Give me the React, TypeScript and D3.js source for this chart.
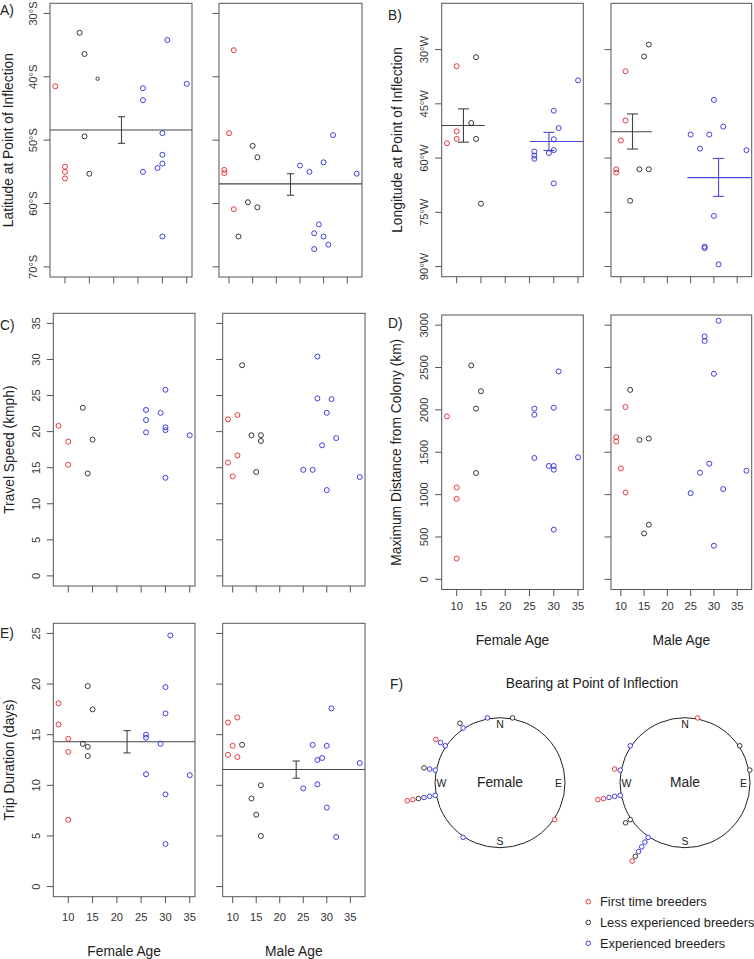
import React from "react";
import * as d3 from "d3";

// groups: 0 first time breeders, 1 less experienced, 2 experienced
const COLORS = ["#e3262b", "#222222", "#2b2be0"];
const LEGEND = ["First time breeders", "Less experienced breeders", "Experienced breeders"];
const FONT = "Liberation Sans, Arial, Helvetica, sans-serif";

// [age, value, group]
const latFemale = [
	[8, 41.5, 0], [10, 54.2, 0], [10, 55.0, 0], [10, 56.05, 0],
	[13, 33.05, 1], [14, 36.4, 1], [16.7, 40.3, 1], [14, 49.4, 1], [15, 55.3, 1],
	[26, 41.8, 2], [26, 43.7, 2], [31, 34.2, 2], [35, 41.1, 2], [30, 48.9, 2],
	[30, 52.3, 2], [30, 53.7, 2], [29, 54.4, 2], [26, 55.0, 2], [30, 65.2, 2],
];
const latMale = [
	[11, 35.8, 0], [10, 48.9, 0], [9, 54.7, 0], [9, 55.2, 0], [11, 60.9, 0],
	[15, 50.9, 1], [16, 52.7, 1], [14, 59.8, 1], [16, 60.6, 1], [12, 65.2, 1],
	[25, 54.0, 2], [27, 55.0, 2], [30, 53.5, 2], [32, 49.2, 2], [37, 55.3, 2],
	[29, 63.3, 2], [28, 64.7, 2], [30, 65.2, 2], [31, 66.5, 2], [28, 67.2, 2],
];
const lonFemale = [
	[10, 34.6, 0], [10, 52.6, 0], [10, 54.7, 0], [8, 55.9, 0],
	[14, 32.1, 1], [13, 50.3, 1], [14, 54.7, 1], [15, 72.6, 1],
	[35, 38.5, 2], [30, 46.9, 2], [31, 51.7, 2], [30, 54.8, 2], [30, 57.8, 2],
	[26, 58.2, 2], [26, 59.3, 2], [26, 60.2, 2], [29, 58.6, 2], [30, 67.0, 2],
];
const lonMale = [
	[11, 36.0, 0], [11, 49.6, 0], [10, 55.1, 0], [9, 63.1, 0], [9, 64.0, 0],
	[16, 28.6, 1], [15, 31.9, 1], [14, 63.1, 1], [16, 63.1, 1], [12, 71.8, 1],
	[30, 43.9, 2], [32, 51.3, 2], [25, 53.5, 2], [29, 53.5, 2], [27, 57.4, 2],
	[37, 57.8, 2], [30, 76.0, 2], [28, 84.5, 2], [28, 84.9, 2], [31, 89.4, 2],
];
const speedFemale = [
	[8, 20.8, 0], [10, 18.6, 0], [10, 15.4, 0],
	[13, 23.3, 1], [14, 14.2, 1], [15, 18.9, 1],
	[26, 23.0, 2], [26, 21.6, 2], [26, 19.9, 2], [29, 22.6, 2], [30, 25.8, 2],
	[30, 20.6, 2], [30, 20.2, 2], [30, 13.6, 2], [35, 19.5, 2],
];
const speedMale = [
	[9, 21.7, 0], [11, 22.3, 0], [11, 16.7, 0], [9, 15.7, 0], [10, 13.8, 0],
	[12, 29.2, 1], [14, 19.5, 1], [16, 19.5, 1], [16, 18.7, 1], [15, 14.4, 1],
	[28, 30.4, 2], [28, 24.6, 2], [31, 24.5, 2], [30, 22.6, 2], [32, 19.1, 2],
	[29, 18.1, 2], [25, 14.7, 2], [27, 14.7, 2], [30, 11.9, 2], [37, 13.7, 2],
];
const distFemale = [
	[8, 1923, 0], [10, 1084, 0], [10, 950, 0], [10, 245, 0],
	[13, 2525, 1], [15, 2220, 1], [14, 2015, 1], [14, 1255, 1],
	[26, 2015, 2], [26, 1943, 2], [26, 1433, 2], [30, 2026, 2], [31, 2454, 2],
	[29, 1338, 2], [30, 1338, 2], [30, 1294, 2], [30, 586, 2], [35, 1441, 2],
];
const distMale = [
	[11, 2034, 0], [9, 1678, 0], [9, 1627, 0], [10, 1310, 0], [11, 1025, 0],
	[12, 2236, 1], [14, 1646, 1], [16, 1662, 1], [15, 542, 1], [16, 645, 1],
	[31, 3052, 2], [28, 2866, 2], [28, 2814, 2], [30, 2426, 2], [29, 1365, 2],
	[27, 1259, 2], [37, 1282, 2], [32, 1065, 2], [25, 1017, 2], [30, 396, 2],
];
const durFemale = [
	[8, 18.1, 0], [8, 16.0, 0], [10, 14.6, 0], [10, 13.3, 0], [10, 6.6, 0],
	[14, 19.8, 1], [15, 17.5, 1], [13, 14.1, 1], [14, 13.8, 1], [14, 12.9, 1],
	[31, 24.8, 2], [30, 19.7, 2], [30, 17.1, 2], [26, 15.0, 2], [26, 14.7, 2],
	[29, 14.1, 2], [26, 11.1, 2], [35, 11.0, 2], [30, 9.1, 2], [30, 4.2, 2],
];
const durMale = [
	[9, 16.2, 0], [11, 16.7, 0], [10, 13.9, 0], [9, 13.0, 0], [11, 12.8, 0],
	[12, 14.0, 1], [16, 10.0, 1], [14, 8.7, 1], [15, 7.1, 1], [16, 5.0, 1],
	[31, 17.6, 2], [27, 14.0, 2], [30, 13.9, 2], [29, 12.7, 2], [28, 12.5, 2],
	[37, 12.2, 2], [28, 10.1, 2], [25, 9.7, 2], [30, 7.8, 2], [32, 4.9, 2],
];

// [mean, lower, upper, barAge, segFrom, segTo, group]  (null seg = full width)
const latFemaleMean = [[48.4, 46.3, 50.5, 21.6, null, null, 1]];
const latMaleMean = [[56.9, 55.3, 58.7, 23, null, null, 1]];
const lonFemaleMean = [[51.0, 46.4, 55.6, 11.4, null, 15.8, 1], [55.4, 52.9, 57.9, 29, 25.1, null, 2]];
const lonMaleMean = [[52.7, 47.8, 57.5, 12.5, null, 16.7, 1], [65.4, 60.1, 70.6, 31, 24.3, null, 2]];
const durFemaleMean = [[14.3, 13.2, 15.4, 22.1, null, null, 1]];
const durMaleMean = [[11.56, 10.7, 12.4, 23.5, null, null, 1]];

// bearings (deg), stacked outward in listed order
const bearFemale = [
	[349, 2], [11, 1], [326, 2], [326, 1], [304, 2], [304, 2], [304, 0],
	[281, 2], [281, 2], [281, 1], [259, 2], [259, 2], [259, 2], [259, 1], [259, 0], [259, 0],
	[214, 2], [124, 0],
];
const bearMale = [
	[11, 0], [56, 1], [79, 1], [304, 2], [281, 2], [281, 0],
	[259, 2], [259, 2], [259, 2], [259, 0], [259, 0], [236, 1], [236, 1],
	[214, 2], [214, 2], [214, 2], [214, 2], [214, 1], [214, 0],
];

const latTicks = [30, 40, 50, 60, 70];
const lonTicks = [30, 45, 60, 75, 90];
const speedTicks = [0, 5, 10, 15, 20, 25, 30, 35];
const distTicks = [0, 500, 1000, 1500, 2000, 2500, 3000];
const durTicks = [0, 5, 10, 15, 20, 25];
const ageTicks = [10, 15, 20, 25, 30, 35];

const ext = (d: number[]) => {
	const r = d[1] - d[0];
	return [d[0] - 0.04 * r, d[1] + 0.04 * r];
};

const AXIS = "#555";
const TICK_FS = 11.2;

function Plot(props: any) {
	const { x0, x1, y0, y1, xdom, ydom, flip, yticks, yfmt, pts, means, ylabels, xlabels, xlabY, cap } = props;
	const x = d3.scaleLinear().domain(ext(xdom)).range([x0, x1]);
	const y = d3.scaleLinear().domain(ext(ydom)).range(flip ? [y0, y1] : [y1, y0]);
	return (
		<g>
			<rect x={x0} y={y0} width={x1 - x0} height={y1 - y0} fill="none" stroke={AXIS} strokeWidth={1} />
			{yticks.map((t: number) => (
				<g key={"y" + t}>
					<line x1={x0 - 6.5} x2={x0} y1={y(t)} y2={y(t)} stroke={AXIS} />
					{ylabels ? (
						<text
							transform={`translate(${x0 - 17.5},${y(t)}) rotate(-90)`}
							textAnchor="middle"
							dominantBaseline="central"
							fontSize={TICK_FS}
							fill="#333">
							{yfmt(t)}
						</text>
					) : null}
				</g>
			))}
			{ageTicks.map((t) => (
				<g key={"x" + t}>
					<line x1={x(t)} x2={x(t)} y1={y1} y2={y1 + 6.5} stroke={AXIS} />
					{xlabels ? (
						<text x={x(t)} y={xlabY} textAnchor="middle" dominantBaseline="central" fontSize={TICK_FS} fill="#333">
							{t}
						</text>
					) : null}
				</g>
			))}
			{(means || []).map((m: any[], i: number) => {
				const c = m[6] === 2 ? "#4a4ad8" : "#444";
				const sx0 = m[4] == null ? x0 : x(m[4]);
				const sx1 = m[5] == null ? x1 : x(m[5]);
				const bx = x(m[3]);
				return (
					<g key={"m" + i} stroke={c} strokeWidth={1.1}>
						<line x1={sx0} x2={sx1} y1={y(m[0])} y2={y(m[0])} />
						<line x1={bx} x2={bx} y1={y(m[1])} y2={y(m[2])} />
						<line x1={bx - cap} x2={bx + cap} y1={y(m[1])} y2={y(m[1])} />
						<line x1={bx - cap} x2={bx + cap} y1={y(m[2])} y2={y(m[2])} />
					</g>
				);
			})}
			{pts.map((p: number[], i: number) => (
				<circle
					key={"p" + i}
					cx={x(p[0])}
					cy={y(p[1])}
					r={p[0] % 1 !== 0 ? 1.7 : 2.5}
					fill="none"
					stroke={COLORS[p[2]]}
					strokeWidth={0.9}
				/>
			))}
		</g>
	);
}

function Pair(props: any) {
	const { fx, mx, y0, y1, ydom, flip, yticks, yfmt, female, male, fMeans, mMeans, ylab, lx, xlabels, xlabY, titleY, cap } = props;
	const common = { y0, y1, ydom, flip, yticks, yfmt, xlabels, xlabY, cap };
	return (
		<g>
			<Plot {...common} x0={fx[0]} x1={fx[1]} xdom={[8, 35]} pts={female} means={fMeans} ylabels={true} />
			<Plot {...common} x0={mx[0]} x1={mx[1]} xdom={[9, 37]} pts={male} means={mMeans} ylabels={false} />
			<text
				transform={`translate(${lx},${(y0 + y1) / 2}) rotate(-90)`}
				textAnchor="middle"
				dominantBaseline="central"
				fontSize={13.8}
				fill="#222">
				{ylab}
			</text>
			{titleY ? (
				<g fontSize={13.8} fill="#222" textAnchor="middle">
					<text x={(fx[0] + fx[1]) / 2} y={titleY} dominantBaseline="central">Female Age</text>
					<text x={(mx[0] + mx[1]) / 2} y={titleY} dominantBaseline="central">Male Age</text>
				</g>
			) : null}
		</g>
	);
}

function Compass(props: any) {
	const { cx, cy, label, pts } = props;
	const R = 65;
	const counts: Record<string, number> = {};
	const pos = pts.map((p: number[]) => {
		const k = counts[p[0]] || 0;
		counts[p[0]] = k + 1;
		const a = (p[0] * Math.PI) / 180;
		const rr = 66 + k * 5.7;
		return { x: cx + rr * Math.sin(a), y: cy - rr * Math.cos(a), g: p[1] };
	});
	const dirs = [["N", 0, -1], ["E", 1, 0], ["S", 0, 1], ["W", -1, 0]];
	return (
		<g>
			<circle cx={cx} cy={cy} r={R} fill="none" stroke="#222" strokeWidth={1} />
			{dirs.map((d: any[]) => (
				<text key={d[0]} x={cx + d[1] * 58.5} y={cy + d[2] * 58.5} textAnchor="middle" dominantBaseline="central" fontSize={10.5} fill="#222">
					{d[0]}
				</text>
			))}
			<text x={cx} y={cy} textAnchor="middle" dominantBaseline="central" fontSize={13.8} fill="#222">
				{label}
			</text>
			{pos.map((p: any, i: number) => (
				<circle key={i} cx={p.x} cy={p.y} r={2.3} fill="white" stroke={COLORS[p.g]} strokeWidth={0.9} />
			))}
		</g>
	);
}

export default function App() {
	const fmtS = (t: number) => `${t}°S`;
	const fmtW = (t: number) => `${t}°W`;
	const fmtN = (t: number) => `${t}`;
	return (
		<svg
			width={754}
			height={959}
			viewBox="0 0 754 959"
			style={{ position: "absolute", left: 0, top: 0, background: "white" }}
			fontFamily={FONT}>
			<rect width={754} height={959} fill="white" />
			<Pair fx={[50, 192]} mx={[219, 362]} y0={3.3} y1={277} ydom={[30, 70]} flip={true}
				yticks={latTicks} yfmt={fmtS} female={latFemale} male={latMale}
				fMeans={latFemaleMean} mMeans={latMaleMean} ylab="Latitude at Point of Inflection" lx={8} cap={3.6} />
			<Pair fx={[441.7, 583.3]} mx={[611, 751.7]} y0={3.3} y1={276.7} ydom={[20, 90]} flip={true}
				yticks={lonTicks} yfmt={fmtW} female={lonFemale} male={lonMale}
				fMeans={lonFemaleMean} mMeans={lonMaleMean} ylab="Longitude at Point of Inflection" lx={397} cap={5.5} />
			<Pair fx={[53.3, 195]} mx={[222.7, 365]} y0={313.3} y1={586} ydom={[0, 35]} flip={false}
				yticks={speedTicks} yfmt={fmtN} female={speedFemale} male={speedMale}
				ylab="Travel Speed (kmph)" lx={9} cap={3.6} />
			<Pair fx={[441.7, 583.3]} mx={[611, 751.7]} y0={315} y1={589.5} ydom={[0, 3000]} flip={false}
				yticks={distTicks} yfmt={fmtN} female={distFemale} male={distMale}
				ylab="Maximum Distance from Colony (km)" lx={396} xlabels={true} xlabY={606} titleY={640} cap={3.6} />
			<Pair fx={[53.3, 195]} mx={[222.7, 365]} y0={623.3} y1={896.7} ydom={[0, 25]} flip={false}
				yticks={durTicks} yfmt={fmtN} female={durFemale} male={durMale}
				fMeans={durFemaleMean} mMeans={durMaleMean} ylab="Trip Duration (days)" lx={9}
				xlabels={true} xlabY={916.7} titleY={951} cap={3.6} />

			<g fontSize={13.8} fill="#222">
				<text x={0} y={15}>A)</text>
				<text x={388} y={20}>B)</text>
				<text x={0} y={330}>C)</text>
				<text x={388} y={328}>D)</text>
				<text x={0} y={638}>E)</text>
				<text x={390} y={689}>F)</text>
			</g>
			<text x={592} y={683.5} textAnchor="middle" dominantBaseline="central" fontSize={13.8} fill="#222">
				Bearing at Point of Inflection
			</text>
			<Compass cx={500} cy={782.7} label="Female" pts={bearFemale} />
			<Compass cx={685} cy={782.7} label="Male" pts={bearMale} />

			{LEGEND.map((l, i) => (
				<g key={l}>
					<circle cx={588.3} cy={901.7 + i * 20.8} r={2.3} fill="none" stroke={COLORS[i]} strokeWidth={0.9} />
					<text x={600} y={901.7 + i * 20.8} dominantBaseline="central" fontSize={12.8} fill="#222">
						{l}
					</text>
				</g>
			))}
		</svg>
	);
}
